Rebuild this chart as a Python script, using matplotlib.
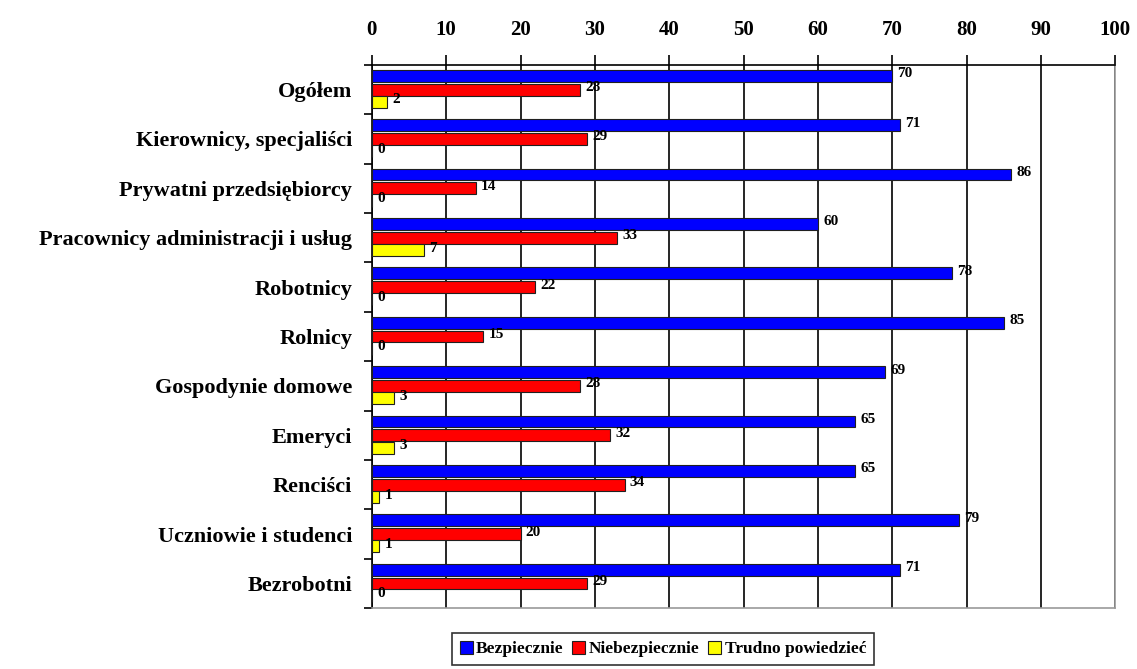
import numpy as np
import matplotlib
matplotlib.use('Agg')
import matplotlib.pyplot as plt
from matplotlib.ticker import FixedLocator

plt.rcParams['font.family'] = ['Liberation Serif', 'DejaVu Serif']
plt.rcParams['font.weight'] = 'bold'

# 数据
categories = ['Ogółem', 'Kierownicy, specjaliści', 'Prywatni przedsiębiorcy',
              'Pracownicy administracji i usług', 'Robotnicy', 'Rolnicy',
              'Gospodynie domowe', 'Emeryci', 'Renciści',
              'Uczniowie i studenci', 'Bezrobotni']
bezpiecznie = [70, 71, 86, 60, 78, 85, 69, 65, 65, 79, 71]
niebezpiecznie = [28, 29, 14, 33, 22, 15, 28, 32, 34, 20, 29]
trudno = [2, 0, 0, 7, 0, 0, 3, 3, 1, 1, 0]
series_names = ['Bezpiecznie', 'Niebezpiecznie', 'Trudno powiedzieć']
x_ticks = list(range(0, 101, 10))

colors = ['#0000FF', '#FF0000', '#FFFF00']

fig = plt.figure(figsize=(11.37, 6.69), dpi=100)
ax = fig.add_axes([0.327, 0.091, 0.654, 0.812])

y = np.arange(len(categories))
h = 0.24
offsets = [-0.28, 0.0, 0.25]
for vals, off, col, name in zip([bezpiecznie, niebezpiecznie, trudno], offsets, colors, series_names):
    ax.barh(y + off, vals, height=h, color=col, edgecolor='#202020', linewidth=0.8,
            label=name, zorder=3)
    for yi, v in zip(y, vals):
        ax.text(v + 0.7, yi + off - 0.04, str(v), fontsize=11, fontweight='bold',
                va='center', ha='left', zorder=4)

ax.set_xlim(0, 100)
ax.set_ylim(len(categories) - 0.5, -0.5)

# 顶部刻度
ax.xaxis.tick_top()
ax.set_xticks(x_ticks)
ax.set_xticklabels([str(t) for t in x_ticks], fontsize=15, fontweight='bold')
ax.tick_params(axis='x', direction='out', length=7, width=1.2, pad=11, color='black')
ax.grid(axis='x', color='black', linewidth=1.2, zorder=0)

ax.set_yticks(y)
ax.set_yticklabels(categories, fontsize=16, fontweight='bold')
ax.tick_params(axis='y', which='major', length=0, pad=14)
ax.yaxis.set_minor_locator(FixedLocator(np.arange(-0.5, len(categories), 1.0)))
ax.tick_params(axis='y', which='minor', direction='out', length=6, width=1.2)

ax.spines['top'].set_color('black')
ax.spines['top'].set_linewidth(1.2)
ax.spines['left'].set_color('black')
ax.spines['left'].set_linewidth(1.2)
ax.spines['right'].set_color('#999999')
ax.spines['bottom'].set_color('#999999')
ax.spines['right'].set_linewidth(1.2)
ax.spines['bottom'].set_linewidth(1.2)

leg = fig.legend(loc='center', bbox_to_anchor=(0.583, 0.03), ncol=3,
                 frameon=True, fancybox=False, edgecolor='black', handlelength=0.75,
                 handleheight=0.8, handletextpad=0.2, columnspacing=0.5,
                 borderpad=0.45, prop={'weight': 'bold', 'size': 12.5})
leg.get_frame().set_linewidth(1.2)

fig.savefig('out.png', dpi=100, facecolor='white')
